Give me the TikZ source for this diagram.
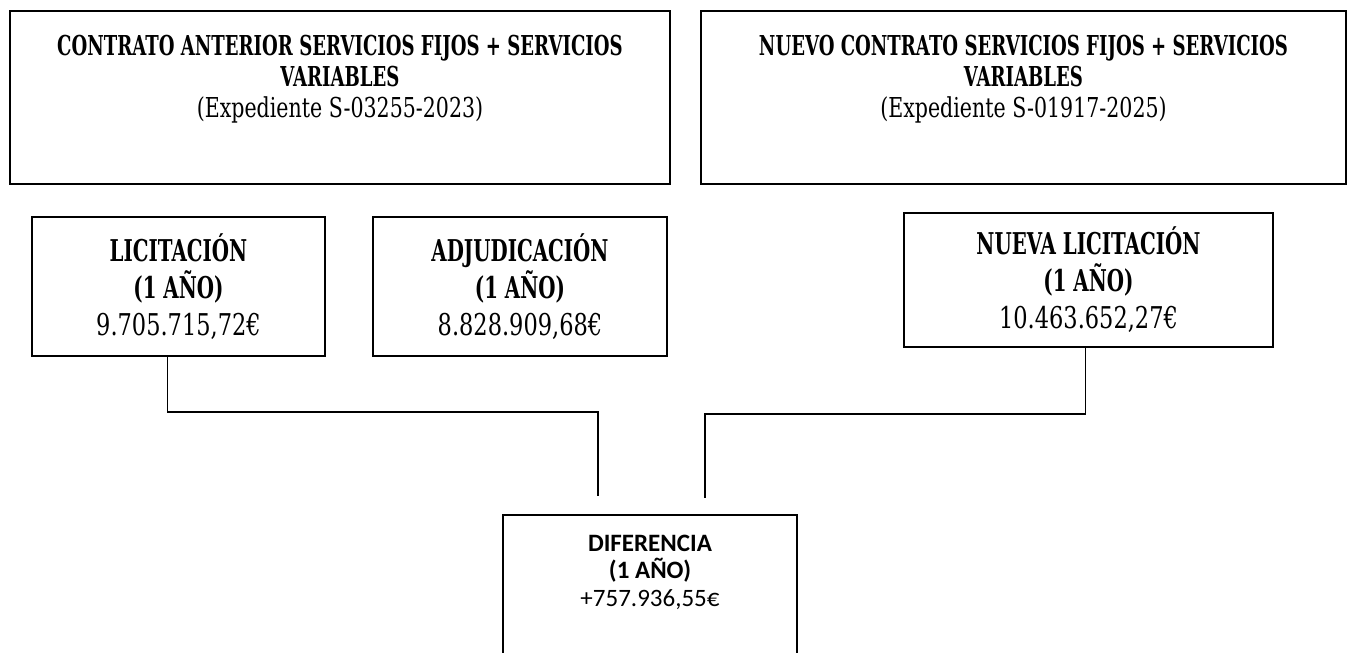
\documentclass[tikz,border=0pt]{standalone}
\usepackage{fontspec}
\setmainfont[FakeStretch=0.75, BoldFeatures={FakeStretch=0.66}]{DejaVu Serif}
\newfontfamily\calfont{Carlito}
\usetikzlibrary{positioning, calc}

\tikzset{
	panel/.style={draw, line width=0.75pt, inner sep=0pt, align=center},
	link/.style={line width=0.75pt},
}

\begin{document}
\begin{tikzpicture}[x=0.5pt, y=-0.5pt]
	\fill[white] (0,0) rectangle (1351,653);
	\useasboundingbox (0,0) rectangle (1351,653);
	% contracts
	\node[panel] (old) at (340,97.5) {\parbox[c][86.5pt][t]{330pt}{\centering\fontsize{13.7}{15.5}\selectfont\vspace{12pt}%
		\textbf{CONTRATO ANTERIOR SERVICIOS FIJOS + SERVICIOS}\hspace*{10pt}\\\textbf{VARIABLES}\\(Expediente S-03255-2023)}};
	\node[panel] (new) at (1023.5,97.5) {\parbox[c][86.5pt][t]{322.5pt}{\centering\fontsize{13.7}{15.5}\selectfont\vspace{12pt}%
		\textbf{NUEVO CONTRATO SERVICIOS FIJOS + SERVICIOS}\\\textbf{VARIABLES}\\(Expediente S-01917-2025)}};
	% amounts
	\node[panel, minimum width=146.5pt, minimum height=69.5pt, font={\fontsize{15}{18.5}\selectfont}] (lic) at (178.5,286.5)
		{\textbf{LICITACIÓN}\\\textbf{(1 AÑO)}\\9.705.715,72€};
	\node[panel, minimum width=147pt, minimum height=69.5pt, font={\fontsize{15}{18.5}\selectfont}] (adj) at (520,286.5)
		{\textbf{ADJUDICACIÓN}\\\textbf{(1 AÑO)}\\8.828.909,68€};
	\node[panel, minimum width=184.5pt, minimum height=67pt, font={\fontsize{15}{18.5}\selectfont}] (nlic) at (1088.5,280)
		{\textbf{NUEVA LICITACIÓN}\\\textbf{(1 AÑO)}\\10.463.652,27€};
	\node[panel, anchor=north] (dif) at (650,514) {\parbox[c][100pt][t]{147pt}{\centering\calfont\fontsize{12.5}{13.75}\selectfont\vspace{10pt}%
		\textbf{DIFERENCIA}\\\textbf{(1 AÑO)}\\+757.936,55€}};
	% connectors
	\coordinate (difL) at (598,496);
	\coordinate (difR) at (705,498);
	\draw[link] ([xshift=-5.5pt]lic.south) |- ($(difL)+(0,-84)$) -- (difL);
	\draw[link] ([xshift=-1.5pt]nlic.south) |- ($(difR)+(0,-84)$) -- (difR);
\end{tikzpicture}
\end{document}
